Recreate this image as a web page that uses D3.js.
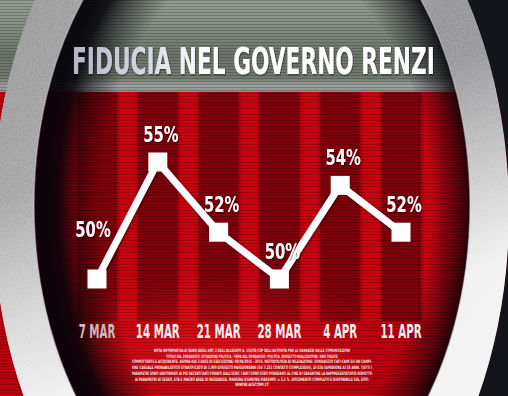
<!DOCTYPE html>
<html>
<head>
<meta charset="utf-8">
<script src="https://cdn.jsdelivr.net/npm/d3@7"></script>
<style>
  html, body { margin: 0; padding: 0; background: #000; }
  svg { display: block; }
</style>
</head>
<body>
<script>
// ---- data ----
const titleText = "FIDUCIA NEL GOVERNO RENZI";
const dates = ["7 MAR", "14 MAR", "21 MAR", "28 MAR", "4 APR", "11 APR"];
const fiducia = [50, 55, 52, 50, 54, 52];
const noteLines = [
  "NOTA INFORMATIVA AI SENSI DEGLI ART. 2 DELL'ALLEGATO A. 153/02/CSP DELL'AUTORITÀ PER LE GARANZIE NELLE COMUNICAZIONI",
  "TITOLO DEL SONDAGGIO: SITUAZIONE POLITICA - TEMA DEL SONDAGGIO: POLITICA. SOGGETTO REALIZZATORE: SWG TRIESTE",
  "COMMITTENTE E ACQUIRENTE: AGORÀ-RAI 3 DATE DI ESECUZIONE: 08/04/2015 - 2015. METODOLOGIA DI RILEVAZIONE: SONDAGGIO CATI-CAMI SU UN CAMPI-",
  "ONE CASUALE PROBABILISTICO STRATIFICATO DI 1.000 SOGGETTI MAGGIORENNI (SU 7.231 CONTATTI COMPLESSIVI), DI ETÀ SUPERIORE AI 18 ANNI. TUTTI I",
  "PARAMETRI SONO UNIFORMATI AI PIÙ RECENTI DATI FORNITI DALL'ISTAT. I DATI SONO STATI PONDERATI AL FINE DI GARANTIRE LA RAPPRESENTATIVITÀ RISPETTO",
  "AI PARAMETRI DI SESSO, ETÀ E MACRO AREA DI RESIDENZA. MARGINE D'ERRORE MASSIMO: ± 3,1 %. DOCUMENTO COMPLETO È DISPONIBILE SUL SITO:",
  "WWW.AGCOM.IT"
];

const W = 508, H = 396;
const headerBottom = 92;
const condensed = "'DejaVu Sans Condensed', 'Liberation Sans Narrow', 'DejaVu Sans', sans-serif";

const svg = d3.select("body").append("svg").attr("width", W).attr("height", H);
const defs = svg.append("defs");

// ---- scales ----
const x = d3.scalePoint().domain(dates).range([97, 401]);
const y = d3.scaleLinear().domain([50, 55]).range([279, 162]);
const step = x.step();

// ---- ring geometry ----
const inner = { cx: 252, cy: 205, rx: 218, ry: 325 };
const outer = { cx: 251, cy: 212, rx: 258, ry: 390 };
function ellipsePath(e) {
  return `M${e.cx - e.rx},${e.cy} a${e.rx},${e.ry} 0 1,0 ${2 * e.rx},0 a${e.rx},${e.ry} 0 1,0 ${-2 * e.rx},0 Z`;
}

// ---- gradients & patterns ----
const headGrad = defs.append("linearGradient").attr("id", "headGrad")
  .attr("x1", 0).attr("y1", 0).attr("x2", 0).attr("y2", 1);
[[0, "#959e93"], [0.3, "#838c81"], [0.6, "#6b7469"], [0.85, "#737b71"], [0.93, "#a0a49e"], [1, "#8c8f8a"]]
  .forEach(([o, c]) => headGrad.append("stop").attr("offset", o).attr("stop-color", c));

const scan = defs.append("pattern").attr("id", "scan").attr("patternUnits", "userSpaceOnUse")
  .attr("width", 8).attr("height", 3);
scan.append("rect").attr("width", 8).attr("height", 1).attr("fill", "rgba(0,0,0,0.2)");

const vign = defs.append("radialGradient").attr("id", "vign").attr("cx", 0.53).attr("fx", 0.53);
[[0, 0], [0.76, 0], [0.88, 0.5], [0.95, 0.88], [1, 0.95]]
  .forEach(([o, a]) => vign.append("stop").attr("offset", o).attr("stop-color", "#05040a").attr("stop-opacity", a));

const glow = defs.append("radialGradient").attr("id", "glow");
glow.append("stop").attr("offset", 0).attr("stop-color", "#ff2020").attr("stop-opacity", 0.5);
glow.append("stop").attr("offset", 1).attr("stop-color", "#ff2020").attr("stop-opacity", 0);

const ringGrad = defs.append("linearGradient").attr("id", "ringGrad")
  .attr("gradientUnits", "userSpaceOnUse").attr("x1", 0).attr("y1", 0).attr("x2", 508).attr("y2", 396);
[[0, "#9c9c9c"], [0.35, "#b4b4b4"], [0.55, "#9a9a9c"], [0.8, "#a2a2a4"], [1, "#b8b8b8"]]
  .forEach(([o, c]) => ringGrad.append("stop").attr("offset", o).attr("stop-color", c));

const ringLight = defs.append("linearGradient").attr("id", "ringLight")
  .attr("gradientUnits", "userSpaceOnUse").attr("x1", 0).attr("y1", 200).attr("x2", 60).attr("y2", 396);
ringLight.append("stop").attr("offset", 0).attr("stop-color", "#ffffff").attr("stop-opacity", 0);
ringLight.append("stop").attr("offset", 1).attr("stop-color", "#ffffff").attr("stop-opacity", 0.85);

const titleGrad = defs.append("linearGradient").attr("id", "titleGrad")
  .attr("x1", 0).attr("y1", 0).attr("x2", 1).attr("y2", 0);
[[0, "#b4b4c6"], [0.2, "#d8d8e2"], [0.38, "#ffffff"], [1, "#ffffff"]]
  .forEach(([o, c]) => titleGrad.append("stop").attr("offset", o).attr("stop-color", c));

const shadow = defs.append("filter").attr("id", "shadow").attr("x", "-20%").attr("y", "-20%").attr("width", "140%").attr("height", "140%");
shadow.append("feDropShadow").attr("dx", 1).attr("dy", 1).attr("stdDeviation", 1)
  .attr("flood-color", "#000").attr("flood-opacity", 0.55);

// brushed-metal grain for the ring
const grain = defs.append("filter").attr("id", "grain").attr("x", 0).attr("y", 0).attr("width", 1).attr("height", 1);
grain.append("feTurbulence").attr("type", "fractalNoise").attr("baseFrequency", "0.9 0.6").attr("numOctaves", 2).attr("result", "n");
grain.append("feColorMatrix").attr("in", "n").attr("type", "matrix")
  .attr("values", "0.33 0.33 0.33 0 0  0.33 0.33 0.33 0 0  0.33 0.33 0.33 0 0  0 0 0 0 1").attr("result", "g");
grain.append("feComposite").attr("in", "SourceGraphic").attr("in2", "g").attr("operator", "arithmetic")
  .attr("k1", 0).attr("k2", 1).attr("k3", 0.35).attr("k4", -0.17).attr("result", "m");
grain.append("feComposite").attr("in", "m").attr("in2", "SourceGraphic").attr("operator", "in");

defs.append("clipPath").attr("id", "outsideRing").append("path")
  .attr("d", `M-10,-10H${W + 10}V${H + 10}H-10Z ` + ellipsePath(outer))
  .attr("clip-rule", "evenodd");

// ---- background: grey header band and red stage ----
svg.append("rect").attr("width", W).attr("height", headerBottom).attr("fill", "url(#headGrad)");
svg.append("rect").attr("y", headerBottom).attr("width", W).attr("height", H - headerBottom).attr("fill", "#b8000e");

// lighter red strips between the columns
svg.append("g").selectAll("rect").data(dates).join("rect")
  .attr("x", d => x(d) + step / 2 - 8).attr("y", headerBottom)
  .attr("width", 16).attr("height", 321 - headerBottom)
  .attr("fill", "#d40a14").attr("opacity", 0.5);

// dark columns behind each week
svg.append("g").selectAll("rect").data(dates).join("rect")
  .attr("x", d => x(d) - 20).attr("y", headerBottom)
  .attr("width", 40).attr("height", 321 - headerBottom)
  .attr("fill", "#5a0008").attr("opacity", 0.62);

// red glow under the dates
svg.append("ellipse").attr("cx", 215).attr("cy", 350).attr("rx", 190).attr("ry", 75).attr("fill", "url(#glow)");

// scanlines
svg.append("rect").attr("width", W).attr("height", H).attr("fill", "url(#scan)");

// dark edge inside the ring
svg.append("ellipse").attr("cx", inner.cx).attr("cy", inner.cy).attr("rx", inner.rx).attr("ry", inner.ry)
  .attr("fill", "url(#vign)");

// dark surround on the right, outside the ring
svg.append("rect").attr("x", outer.cx).attr("y", 0).attr("width", W - outer.cx).attr("height", H)
  .attr("fill", "#14151b").attr("clip-path", "url(#outsideRing)");

// ---- silver ring ----
const ringD = ellipsePath(outer) + " " + ellipsePath(inner);
svg.append("path").attr("d", ringD).attr("fill-rule", "evenodd").attr("fill", "url(#ringGrad)")
  .attr("filter", "url(#grain)");
svg.append("path").attr("d", ringD).attr("fill-rule", "evenodd").attr("fill", "url(#ringLight)");
svg.append("ellipse").attr("cx", inner.cx).attr("cy", inner.cy).attr("rx", inner.rx).attr("ry", inner.ry)
  .attr("fill", "none").attr("stroke", "#d8d8d8").attr("stroke-opacity", 0.5).attr("stroke-width", 1.5);

// narrow the lettering: horizontal scale so a text spans the wanted width
function fitWidth(sel, widthOf) {
  sel.each(function (d, i) {
    const t = d3.select(this);
    const len = this.getComputedTextLength();
    const k = widthOf(d, i, len) / len;
    const ax = +t.attr("data-x"), ay = +t.attr("data-y");
    t.attr("transform", `translate(${ax},${ay}) scale(${k},1)`);
  });
}

// ---- title ----
const title = svg.append("text")
  .attr("data-x", 72).attr("data-y", 74)
  .attr("font-family", condensed).attr("font-weight", "bold").attr("font-size", 37)
  .attr("fill", "url(#titleGrad)").attr("filter", "url(#shadow)")
  .text(titleText);
fitWidth(title, () => 363);

// ---- series ----
const pts = dates.map((d, i) => ({ d, v: fiducia[i], i }));

svg.append("path").datum(pts)
  .attr("d", d3.line().x(p => x(p.d)).y(p => y(p.v)))
  .attr("fill", "none").attr("stroke", "#fff").attr("stroke-width", 7)
  .attr("stroke-linejoin", "miter").attr("filter", "url(#shadow)");

const sq = 19;
svg.append("g").selectAll("rect").data(pts).join("rect")
  .attr("x", p => x(p.d) - sq / 2).attr("y", p => y(p.v) - sq / 2)
  .attr("width", sq).attr("height", sq).attr("fill", "#fff");

const valueLabels = svg.append("g").selectAll("text").data(pts).join("text")
  .attr("data-x", p => x(p.d) + (p.i === 0 ? -4 : 3))
  .attr("data-y", p => y(p.v) - (p.i === 0 ? 42 : 20))
  .attr("text-anchor", "middle")
  .attr("font-family", condensed).attr("font-weight", "bold").attr("font-size", 21)
  .attr("fill", "#fff").attr("filter", "url(#shadow)")
  .text(p => p.v + "%");
fitWidth(valueLabels, (d, i, len) => len * 0.78);

// ---- week labels ----
const dateLabels = svg.append("g").selectAll("text").data(dates).join("text")
  .attr("data-x", d => x(d)).attr("data-y", 338)
  .attr("text-anchor", "middle")
  .attr("font-family", condensed).attr("font-weight", "bold").attr("font-size", 19)
  .attr("fill", (d, i) => i === 0 ? "#cdbcbc" : "#f6f0f0")
  .text(d => d);
fitWidth(dateLabels, (d, i, len) => len * 0.6);

// ---- methodology note ----
const noteWidths = [196, 172, 240, 240, 240, 234, 34];
svg.append("g").selectAll("text").data(noteLines).join("text")
  .attr("x", 252).attr("y", (d, i) => 352 + i * 5.7)
  .attr("text-anchor", "middle")
  .attr("font-family", condensed).attr("font-weight", "bold").attr("font-size", 4.6)
  .attr("fill", "#f4e6e6")
  .attr("textLength", (d, i) => noteWidths[i]).attr("lengthAdjust", "spacingAndGlyphs")
  .text(d => d);
</script>
</body>
</html>
